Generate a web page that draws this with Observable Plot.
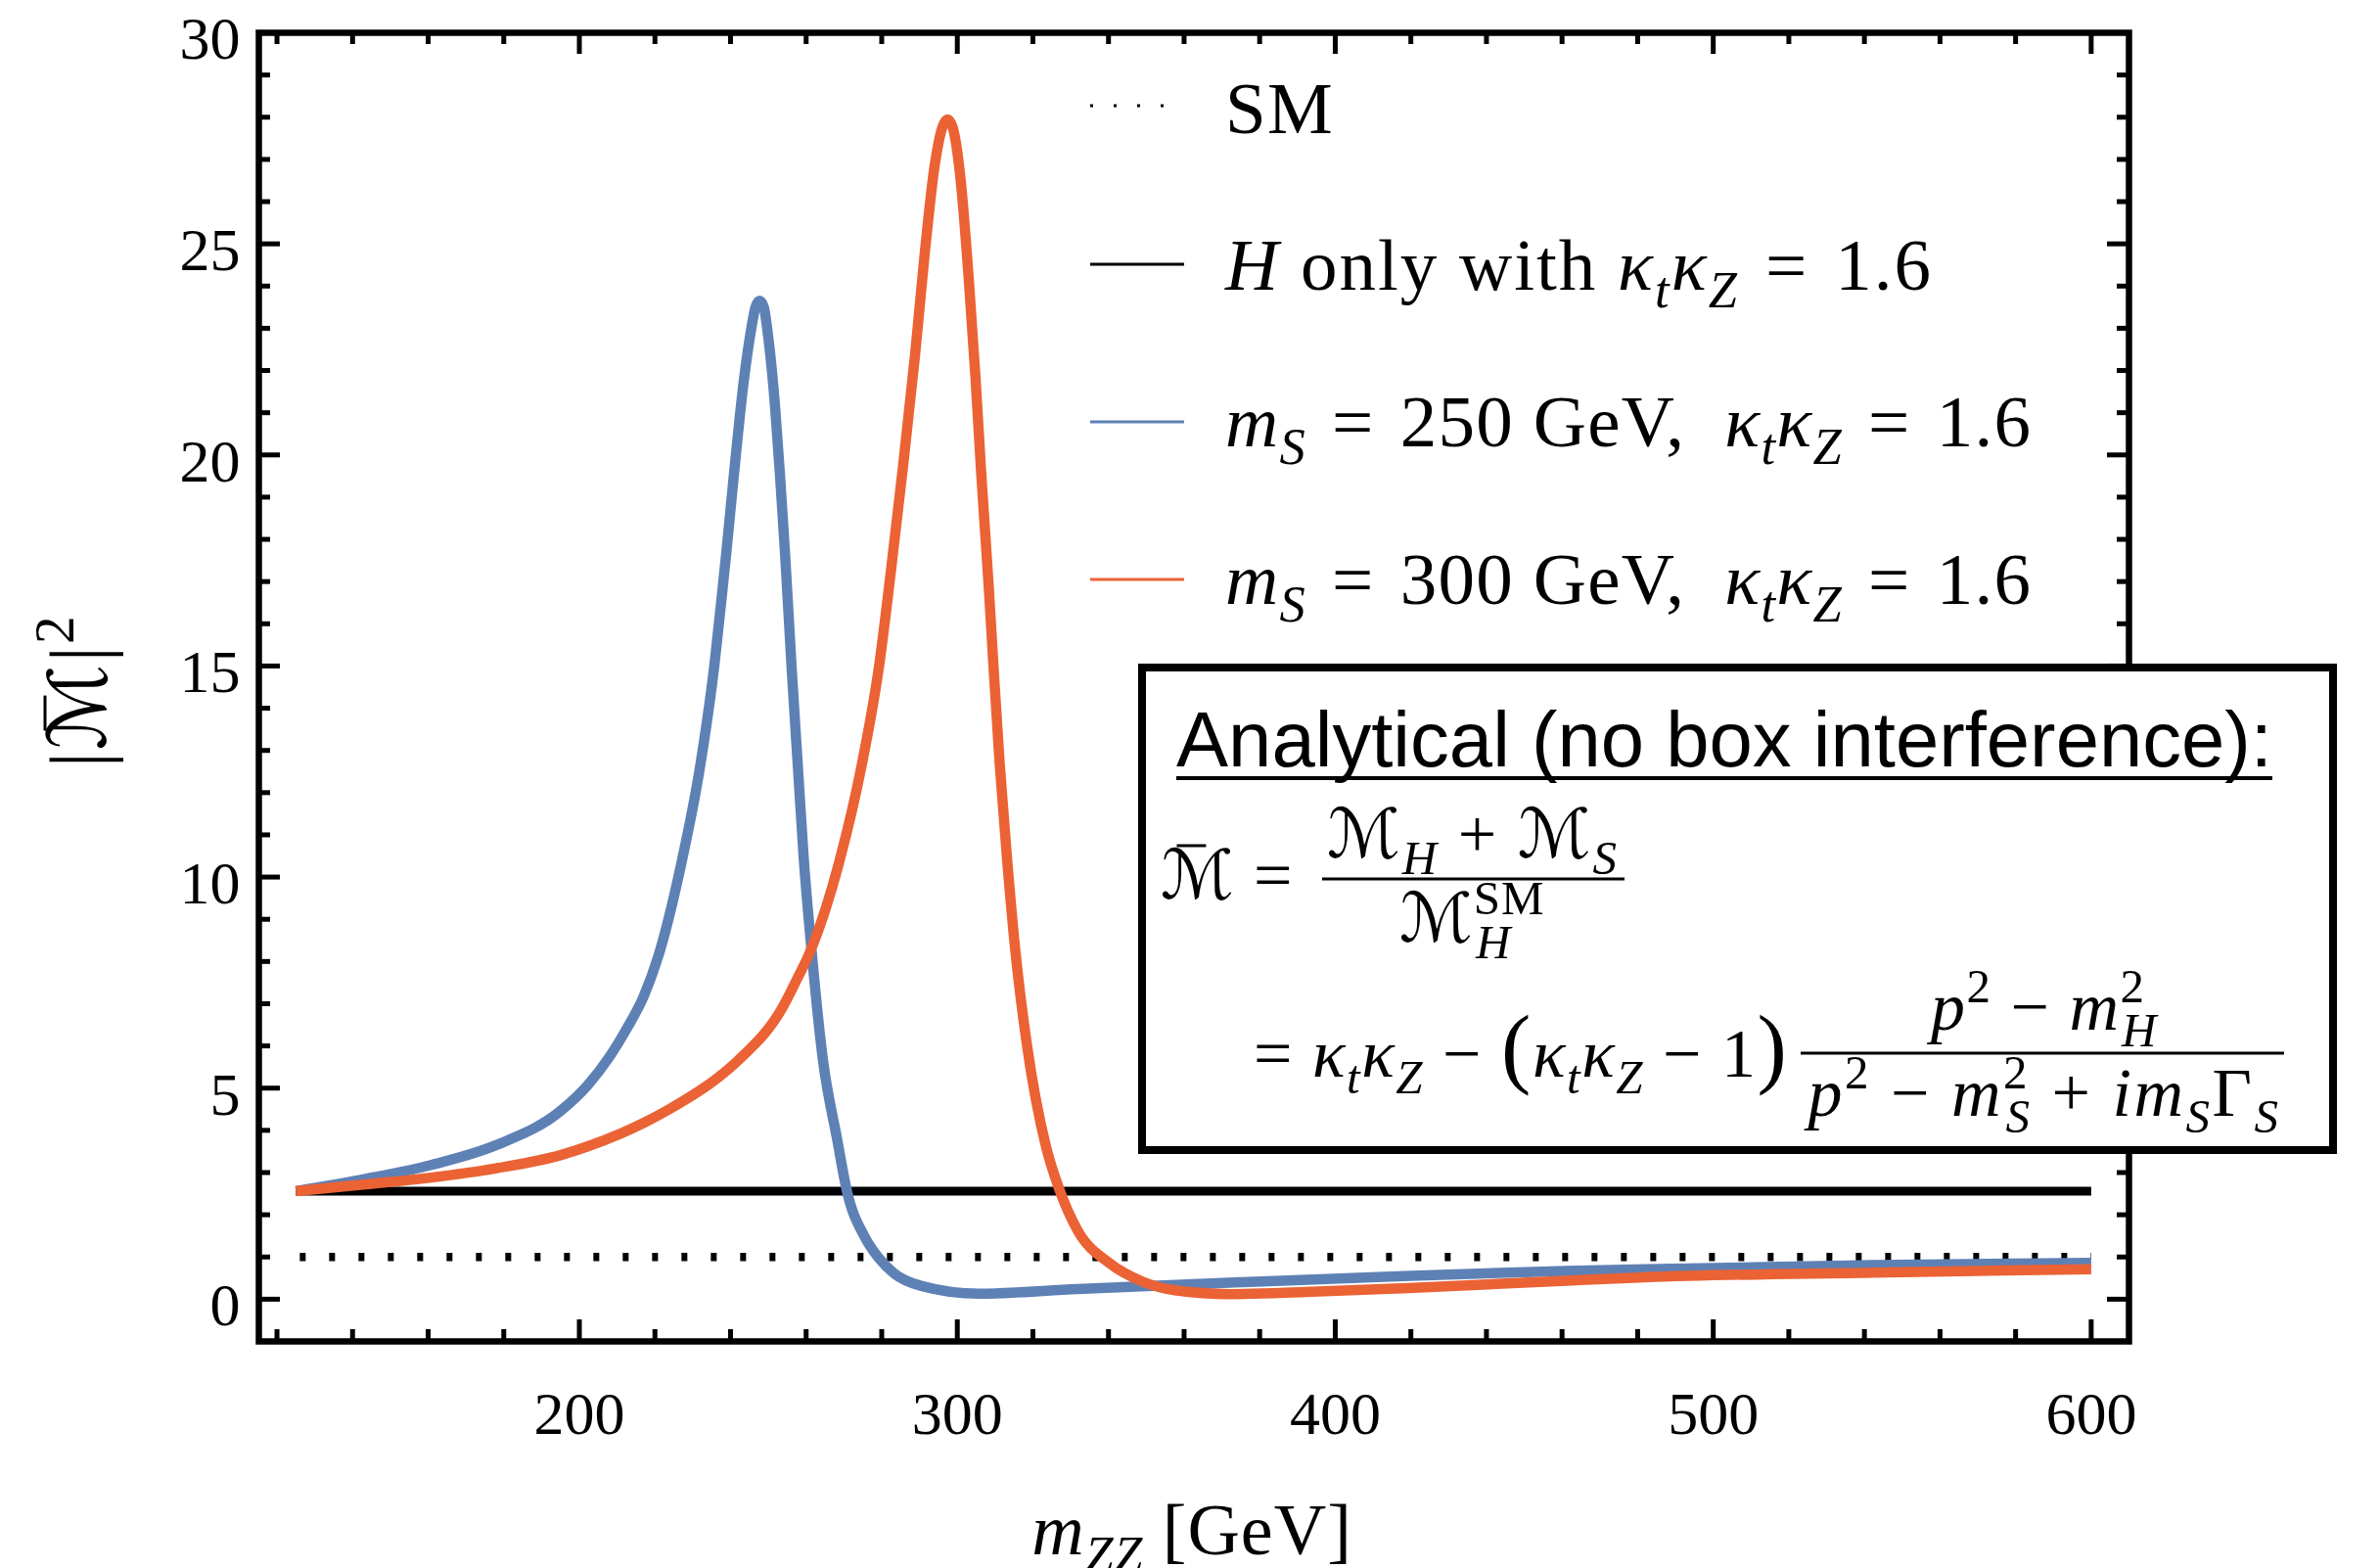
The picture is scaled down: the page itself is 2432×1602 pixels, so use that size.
<!DOCTYPE html>
<html><head><meta charset="utf-8">
<script src="https://cdn.jsdelivr.net/npm/d3@7"></script>
<script src="https://cdn.jsdelivr.net/npm/@observablehq/plot@0.6"></script>
<style>
html,body{margin:0;padding:0;background:#fff;}
#wrap{position:relative;width:2432px;height:1602px;overflow:hidden;background:#fff;}
</style></head><body><div id="wrap"></div>
<script>
// ---------------- data ----------------
const seriesNames = ["SM", "H only with κtκZ = 1.6", "mS = 250 GeV, κtκZ = 1.6", "mS = 300 GeV, κtκZ = 1.6"];
const seriesColors = ["#000000", "#000000", "#5E81B5", "#EB6235"];

const smX = [125, 600];
const smY = [1, 1];

const hOnlyX = [125, 600];
const hOnlyY = [2.56, 2.56];

const mS250X = [125, 143.5, 160.8, 178, 195.3, 202.2, 207.8, 212.6, 216.9, 220.8, 226.8, 232.0, 235.7, 237.8, 238.9, 240.8, 243.5, 245.5, 246.6, 247.7, 248.8, 249.9, 251.8, 253.1, 254.4, 256.2, 257.9, 259.4, 261.3, 264.4, 268.2, 270.8, 275.6, 279.0, 283.3, 290.3, 305.8, 331.7, 374.9, 418, 461.2, 481.9, 542.3, 600];
const mS250Y = [2.56, 2.85, 3.18, 3.65, 4.48, 5.07, 5.72, 6.42, 7.15, 8.1, 10.25, 12.65, 15.0, 16.75, 17.7, 19.45, 21.75, 23.0, 23.5, 23.65, 23.5, 22.85, 21.12, 19.5, 17.7, 14.9, 12.5, 10.4, 8.4, 5.7, 3.79, 2.56, 1.46, 1.00, 0.61, 0.32, 0.13, 0.24, 0.40, 0.55, 0.67, 0.71, 0.81, 0.86];

const mS300X = [125, 143.5, 160.8, 178, 195.3, 202.2, 210.8, 216.9, 223.8, 236.7, 241.9, 254.0, 257.4, 260.9, 268.7, 274.7, 279.3, 282.5, 285.6, 288.8, 291.3, 294.0, 296.0, 297.4, 298.8, 300.9, 303.0, 304.8, 306.3, 308.3, 309.7, 311.2, 313.1, 315.3, 318.3, 323.5, 327.0, 331.7, 340.3, 348.9, 357.6, 372.3, 392.1, 418.0, 461.2, 481.9, 542.3, 600];
const mS300Y = [2.56, 2.72, 2.88, 3.10, 3.42, 3.62, 3.92, 4.17, 4.50, 5.25, 5.65, 6.95, 7.55, 8.2, 10.34, 12.65, 15.0, 17.3, 19.7, 22.35, 24.7, 26.85, 27.75, 27.95, 27.75, 26.5, 24.2, 21.85, 19.6, 16.9, 14.8, 12.7, 10.5, 8.3, 6.1, 3.6, 2.6, 1.65, 0.85, 0.42, 0.21, 0.12, 0.17, 0.26, 0.44, 0.52, 0.63, 0.71];

const xMajor = [200, 300, 400, 500, 600];
const xMinor = [120, 140, 160, 180, 220, 240, 260, 280, 320, 340, 360, 380, 420, 440, 460, 480, 520, 540, 560, 580];
const yMajor = [0, 5, 10, 15, 20, 25, 30];
const yMinor = [1,2,3,4,6,7,8,9,11,12,13,14,16,17,18,19,21,22,23,24,26,27,28,29];
const xDomain = [115.2, 610];
const yDomain = [-1, 30];

// ---------------- build ----------------
const SERIF = "'Liberation Serif','Times New Roman',serif";
const SANS = "'Liberation Sans',Arial,sans-serif";
const CAL = "'DejaVu Sans','DejaVu Serif',serif";

const zip = (xs, ys) => xs.map((x, i) => ({x, y: ys[i]}));
const smData = zip(smX, smY);
const hData = zip(hOnlyX, hOnlyY);
const d250 = zip(mS250X, mS250Y);
const d300 = zip(mS300X, mS300Y);

const W = 2432, H = 1602, ML = 264, MR = 257, MT = 33, MB = 232;
const innerH = H - MT - MB, innerW = W - ML - MR;
const majorLen = 22, minorLen = 12, tickW = 5;

const chart = Plot.plot({
  width: W, height: H,
  marginLeft: ML, marginRight: MR, marginTop: MT, marginBottom: MB,
  x: {domain: xDomain},
  y: {domain: yDomain},
  style: {fontFamily: SERIF, fontSize: "62px", background: "white", color: "black", overflow: "visible"},
  marks: [
    Plot.axisX(xMajor, {tickSize: 0, tickPadding: 50, label: null, fontSize: 62, tickFormat: d => String(d)}),
    Plot.axisY(yMajor, {tickSize: 0, tickPadding: 19, label: null, fontSize: 62, dy: 7, tickFormat: d => String(d)}),
    // inward ticks on all four sides
    Plot.ruleX(xMajor, {x: d => d, insetTop: innerH - majorLen, stroke: "black", strokeWidth: tickW}),
    Plot.ruleX(xMinor, {x: d => d, insetTop: innerH - minorLen, stroke: "black", strokeWidth: tickW}),
    Plot.ruleX(xMajor, {x: d => d, insetBottom: innerH - majorLen, stroke: "black", strokeWidth: tickW}),
    Plot.ruleX(xMinor, {x: d => d, insetBottom: innerH - minorLen, stroke: "black", strokeWidth: tickW}),
    Plot.ruleY(yMajor, {y: d => d, insetRight: innerW - majorLen, stroke: "black", strokeWidth: tickW}),
    Plot.ruleY(yMinor, {y: d => d, insetRight: innerW - minorLen, stroke: "black", strokeWidth: tickW}),
    Plot.ruleY(yMajor, {y: d => d, insetLeft: innerW - majorLen, stroke: "black", strokeWidth: tickW}),
    Plot.ruleY(yMinor, {y: d => d, insetLeft: innerW - minorLen, stroke: "black", strokeWidth: tickW}),
    // series
    Plot.line(smData, {x: "x", y: "y", stroke: seriesColors[0], strokeWidth: 8.5, strokeDasharray: "6,24", strokeDashoffset: -4, strokeLinecap: "butt"}),
    Plot.line(hData, {x: "x", y: "y", stroke: seriesColors[1], strokeWidth: 9, strokeLinecap: "butt"}),
    Plot.line(d250, {x: "x", y: "y", stroke: seriesColors[2], strokeWidth: 10.5, strokeLinecap: "butt", curve: "monotone-x"}),
    Plot.line(d300, {x: "x", y: "y", stroke: seriesColors[3], strokeWidth: 10.5, strokeLinecap: "butt", curve: "monotone-x"}),
    Plot.frame({stroke: "black", strokeWidth: 6.5})
  ]
});
document.getElementById("wrap").appendChild(chart);

// ---------------- annotations (legend, labels, formula box) ----------------
const svg = d3.select(chart);
const g = svg.append("g").attr("class", "annot");

function rich(parent, x, y, segs, {size, anchor = "start", family = SERIF, spacing = 0} = {}) {
  const t = parent.append("text").attr("x", x).attr("y", y)
    .attr("font-size", size).attr("font-family", family).attr("text-anchor", anchor)
    .attr("fill", "#000").style("white-space", "pre").style("letter-spacing", spacing + "px");
  let cur = 0;
  for (const s of segs) {
    const lvl = s.sub ? 0.24 * size : s.sup ? -0.40 * size : 0;
    const fs = ((s.sub || s.sup) ? 0.7 : 1) * size * (s.scale || 1);
    const ts = t.append("tspan").text(s.t).attr("font-size", fs);
    if (lvl !== cur) ts.attr("dy", lvl - cur);
    cur = lvl;
    if (s.i) ts.attr("font-style", "italic");
    if (s.f) ts.attr("font-family", s.f);
    if (s.dx) ts.attr("dx", s.dx);
  }
  return t;
}
function barOver(parent, textSel, idx, up) {
  const n = textSel.node();
  const a = n.getStartPositionOfChar(idx), b = n.getEndPositionOfChar(idx);
  const w = b.x - a.x;
  parent.append("line").attr("x1", a.x + 0.22 * w).attr("x2", a.x + 0.62 * w)
    .attr("y1", a.y - up).attr("y2", a.y - up).attr("stroke", "#000").attr("stroke-width", 3);
}

const kk = [{t: "κ", i: 1}, {t: "t", sub: 1, i: 1}, {t: "κ", i: 1}, {t: "Z", sub: 1, i: 1}];
const EQ = "\u2004=\u2004";

// legend
const LS = 75;
const legLineY = [108, 270, 431, 592];
const legBase = [136, 296, 456, 617];
const legX0 = 1114, legX1 = 1210, legTx = 1252;
const legendTexts = [
  [{t: "SM"}],
  [{t: "H", i: 1}, {t: " only with "}, ...kk, {t: EQ + "1.6"}],
  [{t: "m", i: 1}, {t: "S", sub: 1, i: 1}, {t: EQ + "250 GeV,  "}, ...kk, {t: EQ + "1.6"}],
  [{t: "m", i: 1}, {t: "S", sub: 1, i: 1}, {t: EQ + "300 GeV,  "}, ...kk, {t: EQ + "1.6"}]
];
legendTexts.forEach((segs, i) => {
  const ln = g.append("line").attr("x1", legX0).attr("x2", legX1)
    .attr("y1", legLineY[i]).attr("y2", legLineY[i])
    .attr("stroke", seriesColors[i]).attr("stroke-width", 3);
  if (i === 0) ln.attr("stroke-dasharray", "3,21").attr("stroke-width", 3);
  rich(g, legTx, legBase[i], segs, {size: LS, spacing: i === 1 ? 2 : 1.2});
});

// axis labels
rich(g, 1218, 1588, [{t: "m", i: 1}, {t: "ZZ", sub: 1, i: 1}, {t: " [GeV]"}], {size: 74, anchor: "middle", spacing: 1});
const yl = g.append("g").attr("transform", "translate(108,706) rotate(-90)");
const ylt = rich(yl, 0, 0, [{t: "|"}, {t: "ℳ", f: CAL}, {t: "|"}, {t: "2", sup: 1}], {size: 82, anchor: "middle", spacing: 2});
barOver(yl, ylt, 1, 62);

// formula box
const F = 70;
const box = g.append("g");
box.append("rect").attr("x", 1167).attr("y", 682).attr("width", 1217).attr("height", 493)
  .attr("fill", "white").attr("stroke", "black").attr("stroke-width", 8);
box.append("text").attr("x", 1202).attr("y", 783).attr("font-family", SANS).attr("text-anchor", "start")
  .attr("font-size", 80).attr("textLength", 1120).attr("lengthAdjust", "spacingAndGlyphs")
  .text("Analytical (no box interference):");
box.append("line").attr("x1", 1202).attr("x2", 2322).attr("y1", 795).attr("y2", 795)
  .attr("stroke", "#000").attr("stroke-width", 4);

const l2 = rich(box, 1186, 918, [{t: "ℳ", f: CAL}], {size: F});
barOver(box, l2, 0, 54);
rich(box, 1281, 918, [{t: "="}], {size: F});
box.append("line").attr("x1", 1351).attr("x2", 1660).attr("y1", 898).attr("y2", 898).attr("stroke", "#000").attr("stroke-width", 3);
rich(box, 1505, 876, [{t: "ℳ", f: CAL}, {t: "H", sub: 1, i: 1}, {t: " + "}, {t: "ℳ", f: CAL}, {t: "S", sub: 1, i: 1}], {size: F, anchor: "middle", spacing: 2});
rich(box, 1430, 962, [{t: "ℳ", f: CAL}, {t: "SM", sup: 1}, {t: "H", sub: 1, i: 1, dx: -0.7 * F * 1.445}], {size: F, spacing: 1});

rich(box, 1281, 1100, [{t: "= "}, ...kk, {t: " − "}, {t: "(", scale: 1.3}, ...kk, {t: " − 1"}, {t: ")", scale: 1.3}], {size: F, spacing: 1.5});
box.append("line").attr("x1", 1840).attr("x2", 2334).attr("y1", 1076).attr("y2", 1076).attr("stroke", "#000").attr("stroke-width", 3);
rich(box, 2089, 1052, [{t: "p", i: 1}, {t: "2", sup: 1}, {t: " − "}, {t: "m", i: 1}, {t: "2", sup: 1}, {t: "H", sub: 1, i: 1, dx: -0.7 * F * 0.5}], {size: F, anchor: "middle", spacing: 1.5});
rich(box, 2089, 1140, [{t: "p", i: 1}, {t: "2", sup: 1}, {t: " − "}, {t: "m", i: 1}, {t: "2", sup: 1}, {t: "S", sub: 1, i: 1, dx: -0.7 * F * 0.5}, {t: " + "}, {t: "im", i: 1}, {t: "S", sub: 1, i: 1}, {t: "Γ"}, {t: "S", sub: 1, i: 1}], {size: F, anchor: "middle", spacing: 2.5});
</script>
</body></html>
